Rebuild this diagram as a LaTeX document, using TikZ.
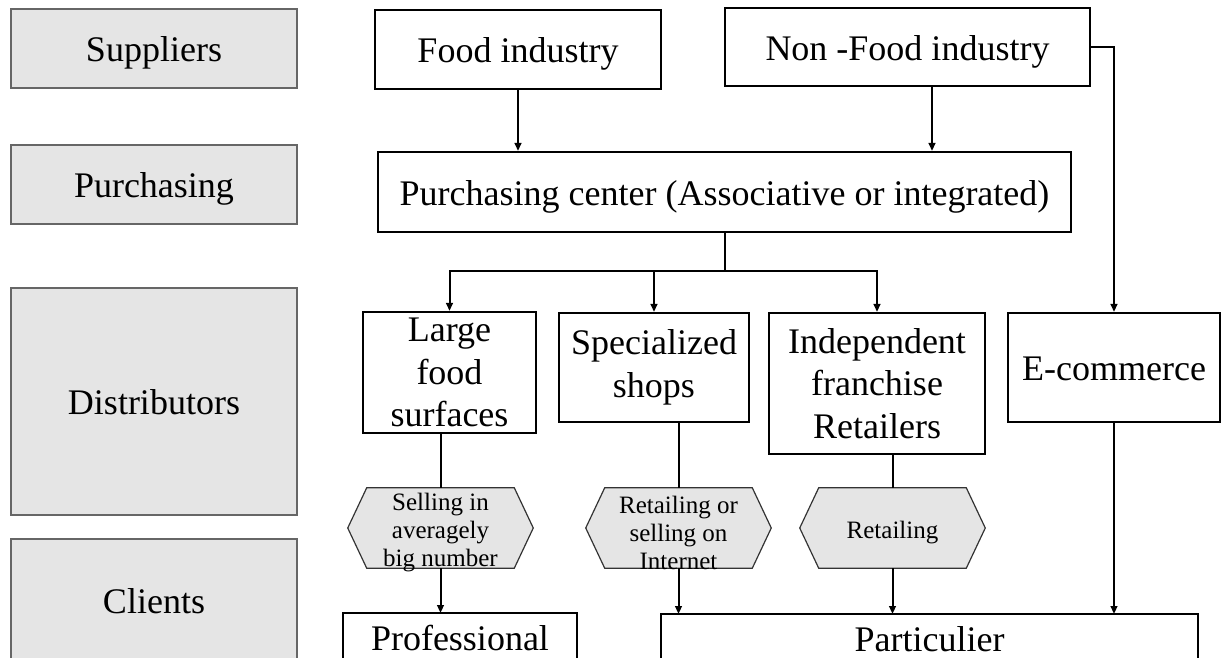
\documentclass[tikz,border=0pt]{standalone}
\usepackage{fontspec}
\setmainfont{Liberation Serif}
\usetikzlibrary{arrows.meta,backgrounds,calc}
\begin{document}
\begin{tikzpicture}[x=0.75pt,y=-0.75pt,
  sl/.style={text height=26pt, text depth=6pt},
  lbl/.style={draw=black!60, line width=0.8pt, fill=black!10, font=\fontsize{27}{32}\selectfont, minimum width=214.5pt, inner sep=0pt, sl},
  bx/.style={draw=black, line width=1.6pt, font=\fontsize{27}{32}\selectfont, align=center, inner sep=0pt},
  open/.style={inner sep=0pt, font=\fontsize{27}{32}\selectfont, text height=28pt, text depth=1pt, anchor=north},
  edge3/.style={draw=black, line width=1.6pt},
  hx/.style={inner sep=0pt, minimum width=138.75pt, minimum height=60pt},
  hxt/.style={inner sep=0pt, align=center, font=\fontsize{18.75}{21}\selectfont},
  hxs/.style={draw=black!80, line width=0.9pt, fill=black!10},
  ln/.style={line width=1.5pt},
  arr/.style={ln, -{Triangle[length=6pt,width=5pt]}}]
\useasboundingbox (0,0) rectangle (1221,657);
\clip (0,0) rectangle (1221,657);
% lane labels
\node[lbl, minimum height=59.25pt] (gS) at (154,48.5) {Suppliers};
\node[lbl, minimum height=59.25pt] (gP) at (154,184.5) {Purchasing};
\node[lbl, minimum height=170.25pt] (gD) at (154,401.5) {Distributors};
\node[lbl, minimum height=92.25pt] (gC) at (154,600.5) {Clients};
% boxes
\node[bx, sl, minimum width=214.5pt, minimum height=59.25pt] (food) at (518,49.5) {Food industry};
\node[bx, sl, minimum width=273.75pt, minimum height=58.5pt] (nonfood) at (907.5,47) {Non -Food industry};
\node[bx, sl, minimum width=519.75pt, minimum height=60pt] (purch) at (724.5,192) {Purchasing center (Associative or integrated)};
\node[bx, minimum width=129.75pt, minimum height=90.75pt] (large) at (449.5,372.5) {Large\\food\\surfaces};
\node[bx, minimum width=142.5pt, minimum height=81.75pt] (spec) at (654,367.5) {Specialized\\shops};
\node[bx, minimum width=162pt, minimum height=105.75pt] (indep) at (877,383.5) {Independent\\franchise\\Retailers};
\node[bx, sl, minimum width=159pt, minimum height=81.75pt] (ecom) at (1114,367.5) {E-commerce};
% hexagons
\node[hx] (h1) at (440.5,528) {};
\node[hx] (h2) at (678.5,528) {};
\node[hx] (h3) at (892.5,528) {};
\foreach \h in {h1,h2,h3}
  \draw[hxs] (\h.west) -- ([xshift=14.25pt]\h.north west) -- ([xshift=-14.25pt]\h.north east) -- (\h.east) -- ([xshift=-14.25pt]\h.south east) -- ([xshift=14.25pt]\h.south west) -- cycle;
\node[hxt] (h1t) at (440.5,533) {Selling in\\averagely\\big number};
\node[hxt] (h2t) at (678.5,533) {Retailing or\\selling on\\Internet};
\node[hxt] (h3t) at (892.5,533) {Retailing};
% clients (boxes run past the lower edge)
\node[open, minimum width=175.5pt] (prof) at (460,613) {Professional};
\node[open, minimum width=402.75pt] (part) at (929.5,614) {Particulier};
\foreach \c in {prof,part}
  \draw[edge3] ([yshift=-20pt]\c.south west) -- (\c.north west) -- (\c.north east) -- ([yshift=-20pt]\c.south east);
% connectors
\coordinate (j) at (724.5,271);
\draw[arr] (food.south) -- (purch.north -| food.south);
\draw[arr] (nonfood.south -| 932,0) -- (purch.north -| 932,0);
\draw[arr] (nonfood.east) -| (ecom.north);
\draw[ln] (purch.south) -- (j);
\draw[arr] (j) -| (large.north);
\draw[arr] (j) -| (indep.north);
\draw[arr] (spec.north |- j) -- (spec.north);
\draw[ln] (h1.north |- large.south) -- (h1.north);
\draw[ln] (h2.north |- spec.south) -- (h2.north);
\draw[ln] (h3.north |- indep.south) -- (h3.north);
\draw[arr] (h1.south) -- (h1.south |- prof.north);
\draw[arr] (h2.south) -- (h2.south |- part.north);
\draw[arr] (h3.south) -- (h3.south |- part.north);
\draw[arr] (ecom.south) -- (ecom.south |- part.north);
\end{tikzpicture}
\end{document}
